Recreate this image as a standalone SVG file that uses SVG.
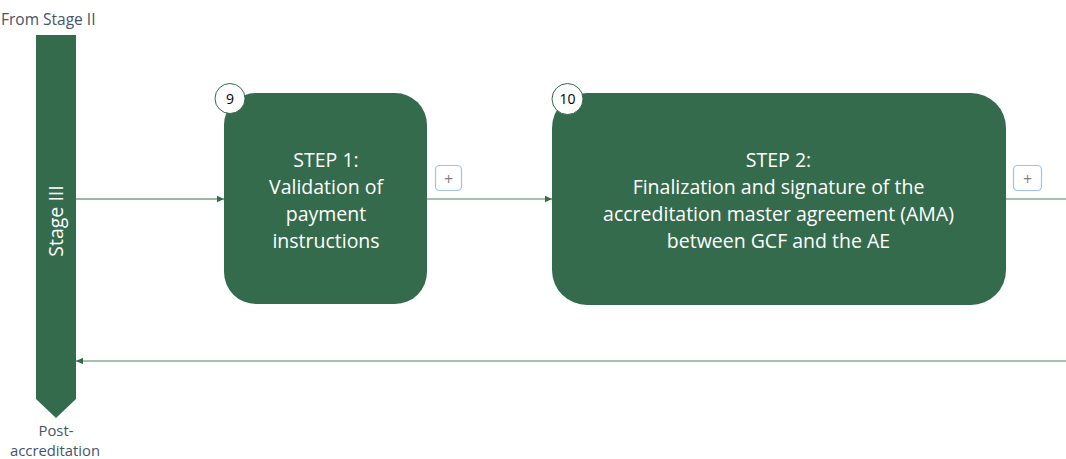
<svg xmlns="http://www.w3.org/2000/svg" width="1066" height="459" viewBox="0 0 1066 459">
<defs>
<style>
.box{fill:#346b4c;}
.bt{fill:#ffffff;font-family:"Open Sans","Liberation Sans",sans-serif;font-size:19.5px;text-anchor:middle;}
.num{fill:#ffffff;stroke:#346b4c;stroke-width:1;}
.nt{fill:#000000;font-family:"Open Sans","Liberation Sans",sans-serif;font-size:14px;text-anchor:middle;}
.lbl{fill:#44546a;font-family:"Open Sans","Liberation Sans",sans-serif;font-size:15.5px;}
.lbl2{fill:#44546a;font-family:"Open Sans","Liberation Sans",sans-serif;font-size:14.8px;text-anchor:middle;}
.plus{fill:#ffffff;stroke:#9dc3e6;stroke-width:1.2;}
.pt{fill:#7f7f7f;font-family:"Open Sans","Liberation Sans",sans-serif;font-size:16px;text-anchor:middle;}
.ln{fill:none;stroke:#8aaa93;stroke-width:1.5;}
.ln2{fill:none;stroke:#3d6f52;stroke-width:1.2;}
</style>
<marker id="ah" markerWidth="8" markerHeight="8" refX="7" refY="4" orient="auto" markerUnits="userSpaceOnUse">
<path d="M0,0.8 L7,4 L0,7.2 Z" fill="#346b4c"/>
</marker>
</defs>
<rect width="1066" height="459" fill="#ffffff"/>

<g id="stage-bar">
<text class="lbl" x="1" y="25">From Stage II</text>
<path class="box" d="M36,35 H76 V399 L56,418 L36,399 Z"/>
<text class="bt" transform="translate(63,221) rotate(-90)">Stage III</text>
<text class="lbl2" x="56" y="436">Post-</text>
<text class="lbl2" x="55" y="456">accreditation</text>
</g>

<g id="connectors">
<line class="ln2" x1="76" y1="199" x2="224" y2="199" marker-end="url(#ah)"/>
<line class="ln" x1="427" y1="199" x2="552" y2="199" marker-end="url(#ah)"/>
<line class="ln" x1="1006" y1="199" x2="1066" y2="199"/>
<line class="ln" x1="1066" y1="361" x2="76" y2="361" marker-end="url(#ah)"/>
</g>

<g id="step1">
<rect class="box" x="224" y="93" width="203" height="211" rx="32"/>
<circle class="num" cx="230" cy="98.5" r="15"/>
<text class="nt" x="230" y="103.5">9</text>
<text class="bt" x="326" y="167">STEP 1:</text>
<text class="bt" x="326" y="194">Validation of</text>
<text class="bt" x="326" y="221">payment</text>
<text class="bt" x="326" y="248">instructions</text>
</g>
<g id="plus1">
<rect class="plus" x="435.5" y="165.5" width="26" height="25" rx="4"/>
<text class="pt" x="448.5" y="184.5">+</text>
</g>

<g id="step2">
<rect class="box" x="552" y="93" width="454" height="212" rx="35"/>
<circle class="num" cx="567.5" cy="99" r="15.5"/>
<text class="nt" x="567.5" y="104">10</text>
<text class="bt" x="778.5" y="167">STEP 2:</text>
<text class="bt" x="778.5" y="194">Finalization and signature of the</text>
<text class="bt" x="778.5" y="221">accreditation master agreement (AMA)</text>
<text class="bt" x="778.5" y="248">between GCF and the AE</text>
</g>
<g id="plus2">
<rect class="plus" x="1013.5" y="165.5" width="28" height="25" rx="4"/>
<text class="pt" x="1027.5" y="184.5">+</text>
</g>
</svg>
